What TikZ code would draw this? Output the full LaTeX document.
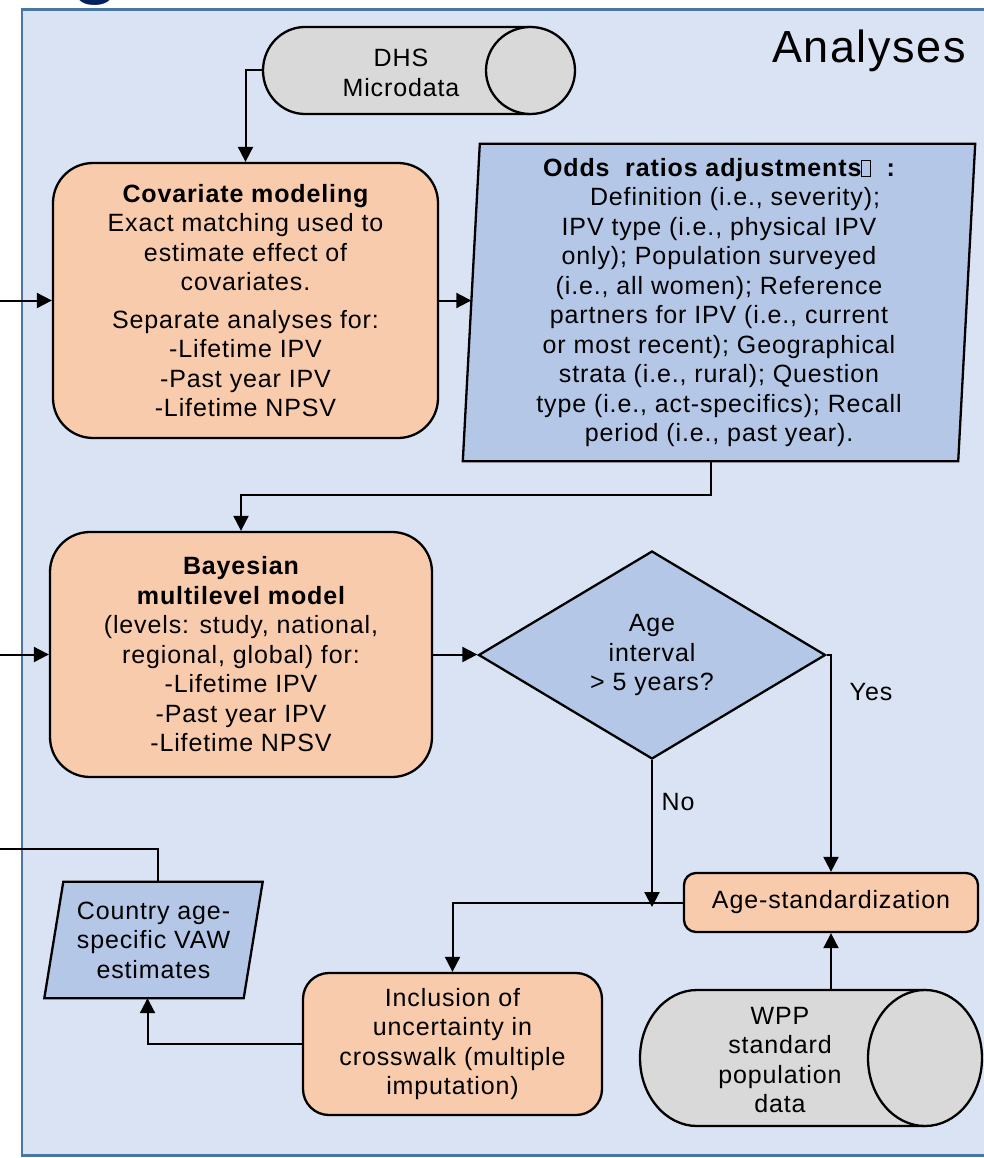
\documentclass[tikz,border=0pt]{standalone}
\usepackage{fontspec}
\setmainfont{Liberation Sans}[LetterSpace=3.5]
\usetikzlibrary{arrows.meta,shapes.geometric,calc}
\definecolor{panelfill}{HTML}{DAE3F3}
\definecolor{panelline}{HTML}{4A76A6}
\definecolor{peach}{HTML}{F8CBAD}
\definecolor{steel}{HTML}{B4C7E7}
\definecolor{stone}{HTML}{D9D9D9}
\definecolor{navy}{HTML}{002060}
% small empty box standing for an unrendered glyph
\newcommand\tofubox{{\setlength\fboxsep{0pt}\setlength\fboxrule{0.9pt}\framebox[0.38em]{\rule{0pt}{0.62em}}}}
\pgfdeclarelayer{back}
\pgfdeclarelayer{shapes}
\pgfsetlayers{back,shapes,main}

\begin{document}
\begin{tikzpicture}[x=1pt,y=-1pt,
  every node/.style={font=\fontsize{25}{29.5}\selectfont, inner sep=0pt, align=center},
  outline/.style={draw=black, line width=2.3pt},
  procbox/.style={outline, fill=peach, rectangle},
  ghost/.style={rectangle, draw=none, fill=none},
  wire/.style={line width=2pt},
  arr/.style={wire, -{Triangle[length=15pt,width=15pt]}},
  ]
\useasboundingbox (0,0) rectangle (983,1158);

% tail of a heading glyph above the panel
\begin{scope}
  \clip (0,0) rectangle (983,9);
  \node[anchor=base, text=navy, font=\fontsize{80}{80}\selectfont\bfseries] (glyph) at (96,-11) {g};
\end{scope}

% panel
\begin{pgfonlayer}{back}
  \draw[draw=panelline, line width=2.5pt, fill=panelfill] (22,9.5) rectangle (1010,1155.5);
\end{pgfonlayer}

\node[anchor=base, font=\fontsize{45}{45}\selectfont] (title) at (869,63) {Analyses};

% data sources (cylinders)
\node[ghost, minimum width=312pt, minimum height=87pt] (dhs) at (419,70.5) {};
\node (dhslabel) at (401,73) {DHS\\Microdata};
\node[ghost, minimum width=342pt, minimum height=136pt] (wpp) at (811,1058) {};
\node (wpplabel) at (780,1060) {WPP\\standard\\population\\data};

\begin{pgfonlayer}{shapes}
  \fill[stone] (305,27) -- (530.5,27) -- (530.5,114) -- (305,114)
    arc[start angle=270, end angle=90, x radius=42pt, y radius=43.5pt] -- cycle;
  \draw[line width=2.3pt] (530.5,27) -- (305,27)
    arc[start angle=90, end angle=270, x radius=42pt, y radius=43.5pt] -- (530.5,114);
  \draw[outline, fill=stone] (530.5,70.5) ellipse[x radius=44.5pt, y radius=43.5pt];

  \fill[stone] (697,990) -- (925,990) -- (925,1126) -- (697,1126)
    arc[start angle=270, end angle=90, x radius=57pt, y radius=68pt] -- cycle;
  \draw[line width=2.3pt] (925,990) -- (697,990)
    arc[start angle=90, end angle=270, x radius=57pt, y radius=68pt] -- (925,1126);
  \draw[outline, fill=stone] (925,1058) ellipse[x radius=57pt, y radius=68pt];
\end{pgfonlayer}

% process boxes
\node[procbox, rounded corners=40pt, minimum width=385pt, minimum height=275pt] (cov) at (245.5,300.5)
  {{\bfseries Covariate modeling}\\Exact matching used to\\estimate effect of\\covariates.\\[8pt]
   Separate analyses for:\\-Lifetime IPV\\-Past year IPV\\-Lifetime NPSV};

\node[procbox, rounded corners=40pt, minimum width=382pt, minimum height=245pt] (bay) at (241,654.5)
  {{\bfseries Bayesian}\\{\bfseries multilevel model}\\(levels: study, national,\\regional, global) for:\\
   -Lifetime IPV\\-Past year IPV\\-Lifetime NPSV};

\node[procbox, rounded corners=12pt, minimum width=294pt, minimum height=59pt] (age) at (831,902.5)
  {Age-standardization};

\node[procbox, rounded corners=26pt, minimum width=299pt, minimum height=142pt] (inc) at (452.5,1044)
  {Inclusion of\\uncertainty in\\crosswalk (multiple\\imputation)};

% decision
\node[shape=diamond, outline, fill=steel, aspect=1.67, minimum width=347pt, minimum height=208pt] (dia) at (652,655)
  {Age\\interval\\> 5 years?};

% input/output parallelograms
\node[ghost, minimum width=495pt, minimum height=317pt] (odds) at (719,302.5)
  {{\bfseries Odds\ \ ratios adjustments\tofubox\ \ :}\\
   \hspace*{32pt}Definition (i.e., severity);\\
   IPV type (i.e., physical IPV\\
   only); Population surveyed\\
   (i.e., all women); Reference\\
   partners for IPV (i.e., current\\
   or most recent); Geographical\\
   strata (i.e., rural); Question\\
   type (i.e., act-specifics); Recall\\
   period (i.e., past year).};
\node[ghost, minimum width=199pt, minimum height=116pt] (cty) at (153.5,940)
  {Country age-\\specific VAW\\estimates};

\begin{pgfonlayer}{shapes}
  \draw[outline, fill=steel] ([xshift=8.5pt]odds.north west) -- ([xshift=8.5pt]odds.north east)
    -- ([xshift=-8.5pt]odds.south east) -- ([xshift=-8.5pt]odds.south west) -- cycle;
  \draw[outline, fill=steel] ([xshift=9.5pt]cty.north west) -- ([xshift=9.5pt]cty.north east)
    -- ([xshift=-9.5pt]cty.south east) -- ([xshift=-9.5pt]cty.south west) -- cycle;
\end{pgfonlayer}

% connector ends outside the panel
\coordinate (inCov) at (0,300.5);
\coordinate (inBay) at (0,654.5);
\coordinate (outCty) at (0,849);
\coordinate (noEnd) at (652,907);

% connectors
\draw[arr] (dhs.west) -| (cov.north);
\draw[arr] (inCov) -- (cov.west);
\draw[arr] (cov.east) -- (cov.east -| odds.west);
\draw[arr] ([xshift=-8pt]odds.south) -- ++(0,34) -| (bay.north);
\draw[arr] (inBay) -- (bay.west);
\draw[arr] (bay.east) -- (bay.east -| dia.west);
\draw[arr] (dia.east) -| (age.north);
\draw[arr] (dia.south) -- (noEnd);
\draw[arr] (age.west) -| (inc.north);
\draw[arr] (age.south |- wpp.north) -- (age.south);
\draw[arr] (inc.west) -| ([xshift=-6pt]cty.south);
\draw[wire] ([xshift=4pt]cty.north) |- (outCty);

% branch labels
\node (yes) at (871,692) {Yes};
\node (no) at (678,802) {No};
\end{tikzpicture}
\end{document}
